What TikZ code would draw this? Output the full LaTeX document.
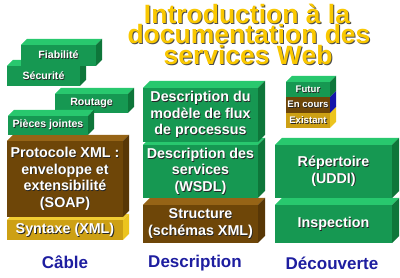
\documentclass[tikz,border=0pt]{standalone}
\usepackage{fontspec}
\setmainfont{Liberation Sans}
\definecolor{greenF}{RGB}{22,152,82}
\definecolor{greenT}{RGB}{40,200,110}
\definecolor{greenS}{RGB}{14,118,58}
\definecolor{brownF}{RGB}{110,70,8}
\definecolor{brownT}{RGB}{150,100,22}
\definecolor{brownS}{RGB}{88,55,6}
\definecolor{goldF}{RGB}{205,160,20}
\definecolor{goldT}{RGB}{242,205,50}
\definecolor{goldS}{RGB}{236,196,30}
\definecolor{blueS}{RGB}{20,20,170}
\definecolor{titleC}{RGB}{250,200,0}
\definecolor{labelC}{RGB}{30,30,160}
% text with a drop shadow, one line
\newcommand{\sh}[1]{\rlap{\kern0.8pt\raisebox{-0.8pt}{\textcolor{black!85}{#1}}}#1}
\newcommand{\tsh}[1]{\rlap{\kern1pt\raisebox{-1pt}{\textcolor{black!70}{#1}}}#1}
\newcommand{\blk}[9]{%
  \fill[#7T] (#2,#3) -- ({#2+#6},{#3-#6}) -- ({#4+#6},{#3-#6}) -- (#4,#3) -- cycle;
  \fill[#7S] (#4,#3) -- ({#4+#6},{#3-#6}) -- ({#4+#6},{#5-#6}) -- (#4,#5) -- cycle;
  \node[fill=#7F, inner sep=0, outer sep=0, minimum width={(#4-#2)*1pt},
        minimum height={(#5-#3)*1pt}, anchor=north west] (#1) at (#2,#3) {};
  \node[boxtext, font=#8] (#1-t) at (#1.center) {#9};
}
\tikzset{
  boxtext/.style={align=center, inner sep=0, text=white},
  collabel/.style={font=\fontsize{17}{20}\selectfont\bfseries, text=labelC, inner sep=0},
  titletext/.style={inner sep=0, text=titleC, font=\fontsize{26.5}{20}\selectfont\bfseries},
}
\newcommand{\bigf}{\fontsize{14.3}{16.5}\selectfont\bfseries}
\newcommand{\smallf}{\fontsize{10.6}{12}\selectfont\bfseries}
\newcommand{\legf}{\fontsize{9.6}{11}\selectfont\bfseries}
\begin{document}
\begin{tikzpicture}[x=1pt,y=-1pt]
\useasboundingbox[fill=white] (0,0) rectangle (400,278);
% Title
\node[titletext] (title1) at (247,14.5) {\tsh{Introduction à la}};
\node[titletext] (title2) at (249,35) {\tsh{documentation des}};
\node[titletext] (title3) at (248,55.5) {\tsh{services Web}};
% Cable column
\blk{syn}{7}{220}{123}{240}{6}{gold}{\bigf}{\sh{Syntaxe (XML)}}
\blk{soap}{7}{141}{123}{217}{6}{brown}{\bigf}{\sh{Protocole XML :}\\\sh{enveloppe et}\\\sh{extensibilité}\\\sh{(SOAP)}}
\blk{route}{55}{94}{128}{113}{6}{green}{\smallf}{\sh{Routage}}
\blk{pj}{8}{116}{88}{135}{6}{green}{\smallf}{\sh{Pièces jointes}}
\blk{secu}{7}{66}{80}{86}{6}{green}{\smallf}{\sh{Sécurité}}
\blk{fiab}{21}{45}{96}{66}{6}{green}{\smallf}{\sh{Fiabilité}}
% Description column
\blk{struct}{143}{205}{258}{243}{7}{brown}{\bigf}{\sh{Structure}\\\sh{(schémas XML)}}
\blk{wsdl}{143}{145}{258}{198}{7}{green}{\bigf}{\sh{Description des}\\\sh{services}\\\sh{(WSDL)}}
\blk{flux}{143}{88}{258}{142}{7}{green}{\bigf}{\sh{Description du}\\\sh{modèle de flux}\\\sh{de processus}}
% Decouverte column
\blk{insp}{275}{205}{392}{243}{7}{green}{\bigf}{\sh{Inspection}}
\blk{uddi}{275}{145}{392}{198}{7}{green}{\bigf}{\sh{Répertoire}\\\sh{(UDDI)}}
% Legend
\blk{exist}{286}{113}{330}{128}{6}{gold}{\legf}{\sh{Existant}}
\blk{encours}{286}{97}{330}{113}{0}{brown}{\legf}{\sh{En cours}}
\fill[blueS] (encours.north east) -- ++(6pt,6pt) -- ++(0,-16pt) -- (encours.south east) -- cycle;
\blk{futur}{286}{82}{330}{97}{6}{green}{\legf}{\sh{Futur}}
% Column labels
\node[collabel] (l1) at (65,262) {Câble};
\node[collabel] (l2) at (195,263) {Description};
\node[collabel] (l3) at (332,263) {Découverte};
\end{tikzpicture}
\end{document}
